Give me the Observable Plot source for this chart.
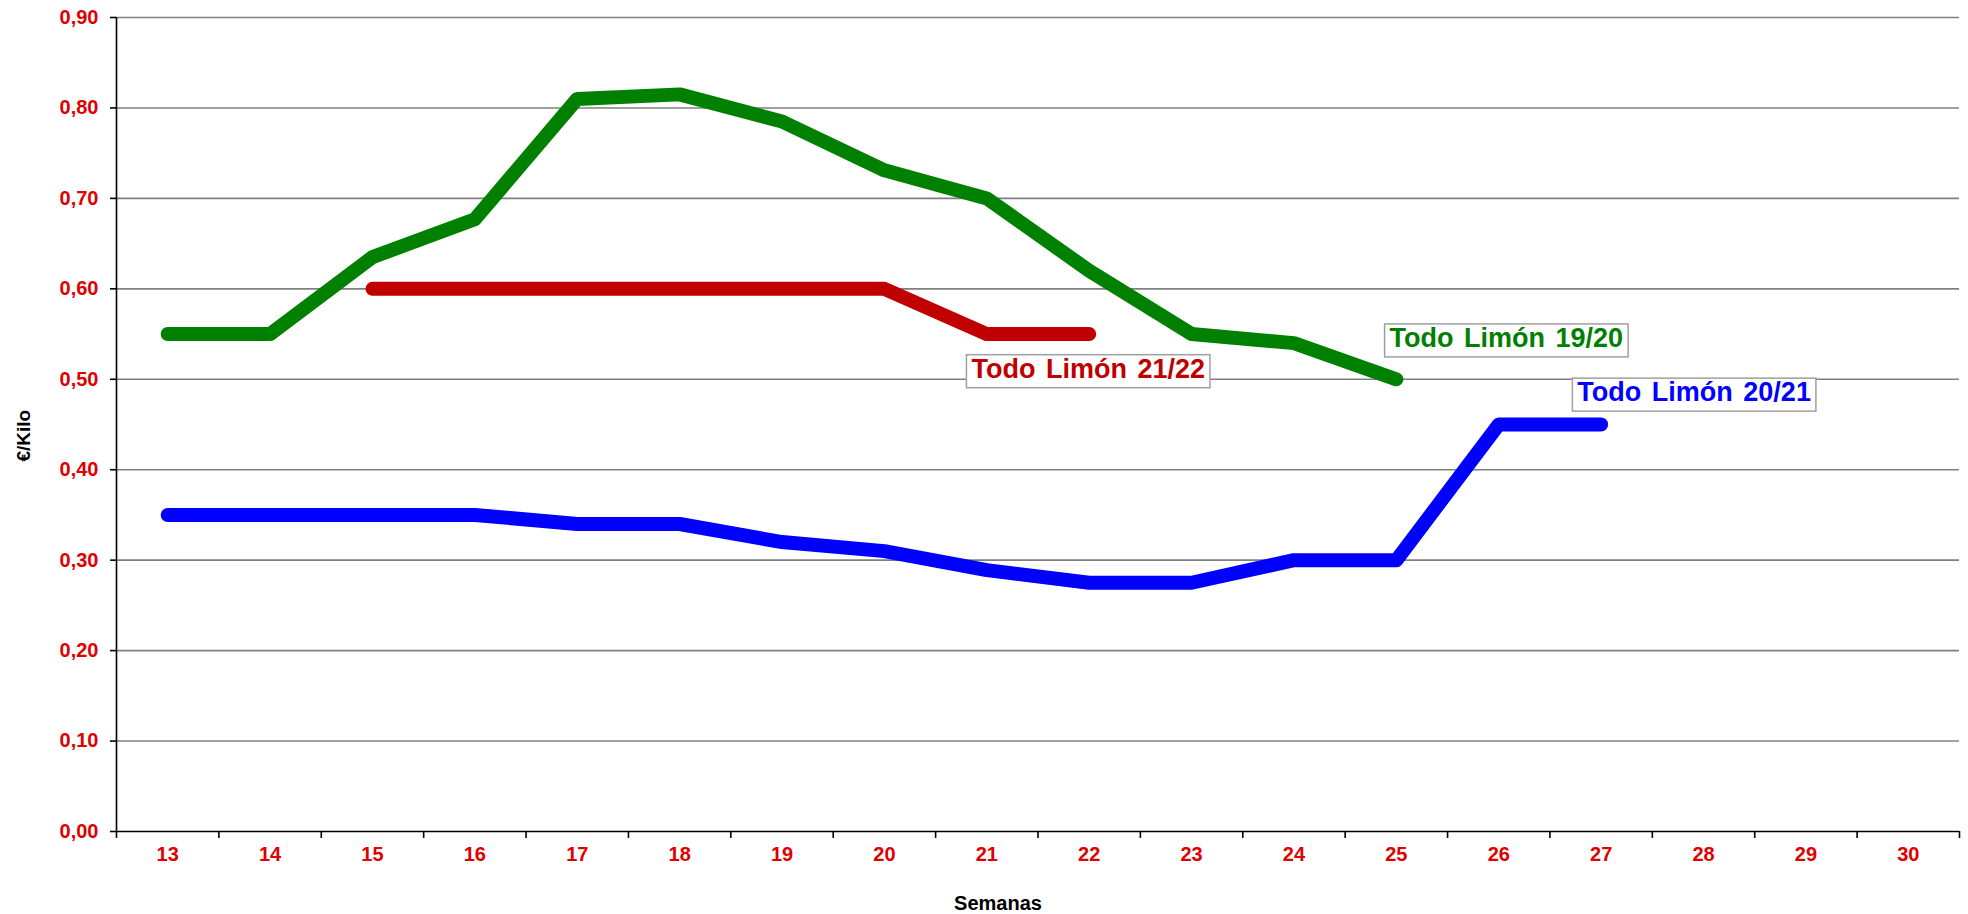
<!DOCTYPE html>
<html>
<head>
<meta charset="utf-8">
<script src="https://cdn.jsdelivr.net/npm/d3@7"></script>
<script src="https://cdn.jsdelivr.net/npm/@observablehq/plot@0.6"></script>
<style>
  body { margin: 0; background: #fff; }
  #chart { width: 1968px; height: 914px; }
</style>
</head>
<body>
<div id="chart"></div>
<script>
// Category axis (weeks)
const weeks = [13, 14, 15, 16, 17, 18, 19, 20, 21, 22, 23, 24, 25, 26, 27, 28, 29, 30];
const yTicks = [0, 0.1, 0.2, 0.3, 0.4, 0.5, 0.6, 0.7, 0.8, 0.9];

// Series: Todo Limón 19/20
const weeks1920 = [13, 14, 15, 16, 17, 18, 19, 20, 21, 22, 23, 24, 25];
const values1920 = [0.55, 0.55, 0.635, 0.677, 0.81, 0.815, 0.785, 0.731, 0.70, 0.62, 0.55, 0.54, 0.50];

// Series: Todo Limón 20/21
const weeks2021 = [13, 14, 15, 16, 17, 18, 19, 20, 21, 22, 23, 24, 25, 26, 27];
const values2021 = [0.35, 0.35, 0.35, 0.35, 0.34, 0.34, 0.32, 0.31, 0.289, 0.275, 0.275, 0.30, 0.30, 0.45, 0.45];

// Series: Todo Limón 21/22
const weeks2122 = [15, 16, 17, 18, 19, 20, 21, 22];
const values2122 = [0.60, 0.60, 0.60, 0.60, 0.60, 0.60, 0.55, 0.55];

const seriesNames = ["Todo Limón 19/20", "Todo Limón 20/21", "Todo Limón 21/22"];
const seriesColors = ["#008000", "#0000FF", "#C00000"];

const toRows = (ws, vs) => ws.map((w, i) => ({week: w, value: vs[i]}));
const rows1920 = toRows(weeks1920, values1920);
const rows2021 = toRows(weeks2021, values2021);
const rows2122 = toRows(weeks2122, values2122);

const boundaries = [...weeks.map(w => w - 0.5), weeks[weeks.length - 1] + 0.5];
const fmt = v => v.toFixed(2).replace(".", ",");
const FONT = "'Liberation Sans', Arial, Helvetica, sans-serif";

const lineOpts = {x: "week", y: "value", strokeWidth: 14, strokeLinecap: "round", strokeLinejoin: "round"};
const labelOpts = {fontSize: 27, fontWeight: "bold", textAnchor: "middle", lineAnchor: "middle", wordSpacing: 3};

const plot = Plot.plot({
  width: 1968,
  height: 914,
  marginLeft: 116,
  marginRight: 9,
  marginTop: 17,
  marginBottom: 83,
  style: {fontFamily: FONT, background: "#fff", overflow: "visible"},
  x: {type: "linear", domain: [12.5, 30.5]},
  y: {domain: [0, 0.9]},
  marks: [
    Plot.gridY(yTicks.filter(d => d > 0), {stroke: "#808080", strokeOpacity: 1, strokeWidth: 1.6}),
    Plot.ruleY([0], {stroke: "#000", strokeWidth: 1.6}),
    Plot.ruleX([12.5], {stroke: "#000", strokeWidth: 1.6}),
    Plot.axisY({ticks: yTicks, tickFormat: fmt, tickSize: 6, tickPadding: 12, stroke: "#000", fill: "#E00000",
      fontSize: 20, fontWeight: "bold", label: null, strokeWidth: 1.6}),
    Plot.axisX({ticks: boundaries, tickFormat: () => "", tickSize: 7, stroke: "#000", strokeWidth: 1.6, label: null}),
    Plot.axisX({ticks: weeks, tickFormat: d => String(d), tickSize: 0, tickPadding: 15, fill: "#E00000",
      fontSize: 20, fontWeight: "bold", label: null}),
    Plot.text(["€/Kilo"], {frameAnchor: "left", text: d => d, rotate: -90, dx: -93, dy: 37,
      fontSize: 19, fontWeight: "bold", fill: "#000"}),
    Plot.text(["Semanas"], {frameAnchor: "bottom", text: d => d, dx: -40, dy: 72, lineAnchor: "middle",
      fontSize: 20, fontWeight: "bold", fill: "#000"}),
    Plot.line(rows2021, {...lineOpts, stroke: seriesColors[1]}),
    Plot.line(rows1920, {...lineOpts, stroke: seriesColors[0]}),
    Plot.line(rows2122, {...lineOpts, stroke: seriesColors[2]}),
    Plot.text([rows2122[rows2122.length - 1]], {...labelOpts, x: "week", y: "value", text: () => seriesNames[2],
      fill: seriesColors[2], dx: -1, dy: 35}),
    Plot.text([rows1920[rows1920.length - 1]], {...labelOpts, x: "week", y: "value", text: () => seriesNames[0],
      fill: seriesColors[0], dx: 110, dy: -41}),
    Plot.text([rows2021[rows2021.length - 1]], {...labelOpts, x: "week", y: "value", text: () => seriesNames[1],
      fill: seriesColors[1], dx: 93, dy: -32})
  ]
});

document.getElementById("chart").appendChild(plot);

// Draw boxes behind the series labels
plot.querySelectorAll("text").forEach(t => {
  if (!t.textContent.startsWith("Todo Lim")) return;
  t.setAttribute("word-spacing", "3");
  const b = t.getBBox();
  const r = document.createElementNS("http://www.w3.org/2000/svg", "rect");
  r.setAttribute("x", b.x - 5);
  r.setAttribute("y", b.y + 1);
  r.setAttribute("width", b.width + 10);
  r.setAttribute("height", b.height + 3);
  r.setAttribute("fill", "#fff");
  r.setAttribute("stroke", "#A0A0A0");
  r.setAttribute("stroke-width", 1.5);
  const tr = t.getAttribute("transform");
  if (tr) r.setAttribute("transform", tr);
  t.parentNode.insertBefore(r, t);
});
</script>
</body>
</html>
